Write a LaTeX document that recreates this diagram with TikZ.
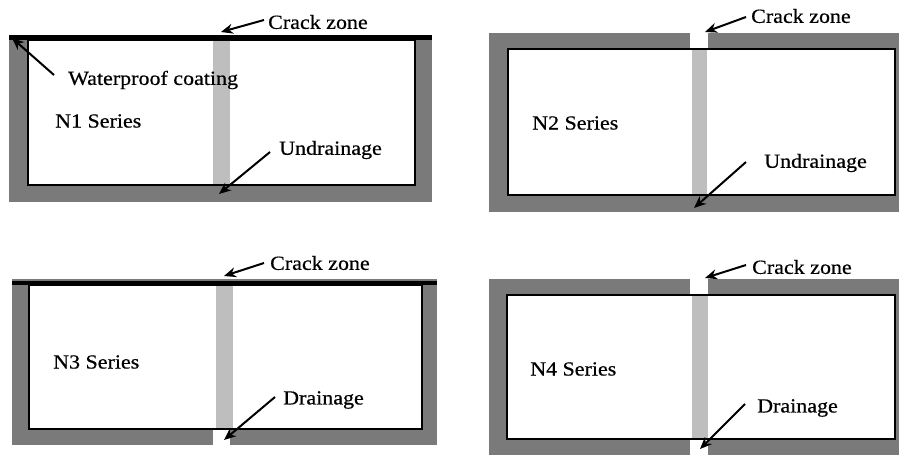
\documentclass[tikz,border=0pt]{standalone}
\usepackage{fontspec}
\newfontfamily\lbfont[FakeStretch=1.1,FakeBold=0.6]{Liberation Serif}
\usetikzlibrary{arrows.meta}
\definecolor{band}{HTML}{7A7A7A}
\definecolor{crack}{HTML}{BEBEBE}
\tikzset{
  lbl/.style={anchor=west, inner sep=0pt, font=\lbfont\fontsize{20}{22}\selectfont},
  ptr/.style={line width=2pt, -{Stealth[length=12pt,width=10pt]}},
  bandfill/.style={fill=band},
  inner/.style={fill=white, draw=black, line width=1.5pt},
  crackfill/.style={fill=crack},
  gapfill/.style={fill=white},
  coat/.style={fill=black}
}
\begin{document}
\begin{tikzpicture}[x=1pt,y=-1pt]
\useasboundingbox (0,0) rectangle (899,455);
% ---------- N1 ----------
\fill[bandfill] (9,36) rectangle (432,202);
\fill[coat] (9,35) rectangle (432,40);
\path[inner] (28,40) rectangle (415,185);
\fill[crackfill] (213,40.8) rectangle (230,184.2);
\node[lbl] (cz1) at (268,22) {Crack zone};
\coordinate (cz1t) at (221,32);
\draw[ptr] (cz1.west) ++(-4,-2) -- (cz1t);
\node[lbl] (wp1) at (68,80) {Waterproof coating};
\coordinate (wp1t) at (12,38);
\draw[ptr] (wp1.west) ++(-14,-5) -- (wp1t);
\node[lbl] (n1) at (55,121) {N1 Series};
\node[lbl] (ud1) at (279,150) {Undrainage};
\coordinate (ud1t) at (219,194);
\draw[ptr] (ud1.west) ++(-9,2) -- (ud1t);
% ---------- N2 ----------
\fill[bandfill] (489,33) rectangle (899,212);
\path[inner] (508,49) rectangle (895,195);
\fill[gapfill] (690,32) rectangle (708,48.2);
\fill[crackfill] (692,49.8) rectangle (707,194.2);
\node[lbl] (cz2) at (751,16) {Crack zone};
\coordinate (cz2t) at (705,32);
\draw[ptr] (cz2.west) ++(-5,1) -- (cz2t);
\node[lbl] (n2) at (532,123) {N2 Series};
\node[lbl] (ud2) at (764,163) {Undrainage};
\coordinate (ud2t) at (694,208);
\draw[ptr] (ud2.west) ++(-18,-1) -- (ud2t);
% ---------- N3 ----------
\fill[bandfill] (12,279) rectangle (437,445);
\fill[coat] (12,281) rectangle (437,285);
\path[inner] (29,285) rectangle (422,429);
\fill[gapfill] (213,429.8) rectangle (230,446);
\fill[crackfill] (216,285.8) rectangle (233,428.2);
\node[lbl] (cz3) at (270,263) {Crack zone};
\coordinate (cz3t) at (224,276);
\draw[ptr] (cz3.west) ++(-6,0) -- (cz3t);
\node[lbl] (n3) at (53,362) {N3 Series};
\node[lbl] (dr3) at (283,400) {Drainage};
\coordinate (dr3t) at (224,440);
\draw[ptr] (dr3.west) ++(-8,-3) -- (dr3t);
% ---------- N4 ----------
\fill[bandfill] (489,279) rectangle (899,455);
\path[inner] (507,295) rectangle (895,439);
\fill[gapfill] (690,278) rectangle (708,294.2);
\fill[gapfill] (690,439.8) rectangle (708,456);
\fill[crackfill] (692,295.8) rectangle (708,438.2);
\node[lbl] (cz4) at (752,267) {Crack zone};
\coordinate (cz4t) at (705,278);
\draw[ptr] (cz4.west) ++(-6,-2) -- (cz4t);
\node[lbl] (n4) at (530,369) {N4 Series};
\node[lbl] (dr4) at (757,408) {Drainage};
\coordinate (dr4t) at (700,449);
\draw[ptr] (dr4.west) ++(-12,-4) -- (dr4t);
\end{tikzpicture}
\end{document}
